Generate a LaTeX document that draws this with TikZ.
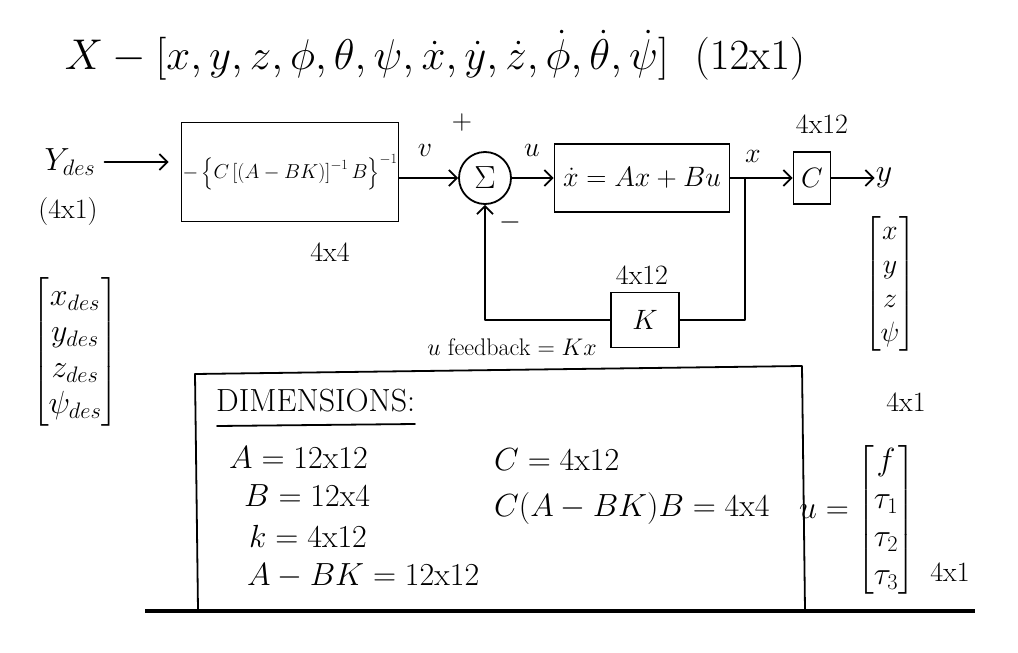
\documentclass[tikz,border=0pt]{standalone}
\usepackage{fix-cm}
\usepackage{amsmath}
\usepackage{fontspec}
\usetikzlibrary{arrows.meta}
\tikzset{
  wire/.style={line width=1.8pt, line cap=round, line join=round},
  arr/.style={wire, -{Straight Barb[length=8pt,width=16pt,line width=1.8pt]}},
  blk/.style={draw, line width=1.8pt, inner sep=2pt},
  lbl/.style={font=\fontsize{28}{32}\selectfont, inner sep=1pt},
  mid/.style={font=\fontsize{32}{36}\selectfont, inner sep=1pt},
  sml/.style={font=\fontsize{24}{28}\selectfont, inner sep=1pt},
  big/.style={font=\fontsize{43}{50}\selectfont, inner sep=1pt},
}
\begin{document}
\begin{tikzpicture}[x=1pt,y=-1pt]
\useasboundingbox (0,0) rectangle (1018,653);
% title
\node[big] (title) at (435,55) {$X - [x, y, z, \phi, \theta, \psi, \dot x, \dot y, \dot z, \dot\phi, \dot\theta, \dot\psi]\ \ (12\mathrm{x}1)$};
% input
\node[mid] (ydes) at (70,162) {$Y_{des}$};
\node[lbl] (ydim) at (68,212) {(4x1)};
\node[mid] (ydvec) at (75,352) {$\begin{bmatrix} x_{des}\\ y_{des}\\ z_{des}\\ \psi_{des}\end{bmatrix}$};
% precompensator
\node[blk, lbl, minimum width=215pt, minimum height=99pt] (g) at (290,172) {\scalebox{0.72}{$-\left\{C\left[(A-BK)\right]^{-1}B\right\}^{-1}$}};
\node[lbl] (gdim) at (330,252) {4x4};
% summing junction
\node[draw, circle, line width=1.8pt, minimum size=52pt, mid] (sum) at (485,178) {$\Sigma$};
\node[lbl] (vlab) at (425,150) {$v$};
\node[lbl] (plus) at (462,122) {$+$};
\node[lbl] (minus) at (510,222) {$-$};
\node[lbl] (ulab) at (532,150) {$u$};
% plant
\node[blk, lbl, minimum width=175pt, minimum height=68pt] (plant) at (642,178) {$\dot x = Ax + Bu$};
\node[lbl] (xlab) at (753,156) {$x$};
\coordinate (j) at (745,178);
% output matrix
\node[blk, lbl, minimum width=37pt, minimum height=52pt] (cblk) at (812,178) {$C$};
\node[lbl] (cdim) at (822,124) {4x12};
\node[mid] (yout) at (884,178) {$y$};
\node[lbl] (yvec) at (890,284) {$\begin{bmatrix} x\\[2pt] y\\[2pt] z\\[2pt] \psi\end{bmatrix}$};
\node[lbl] (yvdim) at (906,402) {4x1};
% feedback gain
\node[blk, lbl, minimum width=68pt, minimum height=55pt] (kblk) at (645,320) {$K$};
\node[lbl] (kdim) at (642,275) {4x12};
\node[sml] (ufb) at (512,347) {$u$ feedback $= Kx$};
\coordinate (kr) at (745,320);
% connectors
\draw[arr, shorten <=8pt, shorten >=12pt] (ydes.east) -- (g.west |- ydes.east);
\draw[arr] (g.east |- sum.west) -- (sum.west);
\draw[arr] (sum.east) -- (plant.west);
\draw[wire] (plant.east) -- (j);
\draw[arr] (j) -- (cblk.west);
\draw[arr] (cblk.east) -- (cblk.east -| yout.west);
\draw[wire] (j) -- (kr) -- (kblk.east);
\draw[arr] (kblk.west) -| (sum.south);
% dimensions box
\draw[wire] (195,374) -- (802,366) -- (805,610);
\draw[wire] (195,374) -- (198,610);
\draw[line width=3.5pt] (145,611) -- (975,611);
\node[mid, anchor=west] (dimt) at (215,401) {DIMENSIONS:};
\draw[wire] (217,426) -- (415,424);
\node[mid, anchor=west] (da) at (228,458) {$A = 12\mathrm{x}12$};
\node[mid, anchor=west] (db) at (243,496) {$B = 12\mathrm{x}4$};
\node[mid, anchor=west] (dk) at (248,536) {$k = 4\mathrm{x}12$};
\node[mid, anchor=west] (dabk) at (246,576) {$A - BK = 12\mathrm{x}12$};
\node[mid, anchor=west] (dc) at (493,460) {$C = 4\mathrm{x}12$};
\node[mid, anchor=west] (dcab) at (493,508) {$C(A-BK)B = 4\mathrm{x}4$};
% input vector
\node[mid] (ueq) at (824,512) {$u=$};
\node[mid] (uvec) at (886,520) {$\begin{bmatrix} f\\[2pt] \tau_1\\[2pt] \tau_2\\[2pt] \tau_3\end{bmatrix}$};
\node[lbl] (uvdim) at (950,572) {4x1};
\end{tikzpicture}
\end{document}
